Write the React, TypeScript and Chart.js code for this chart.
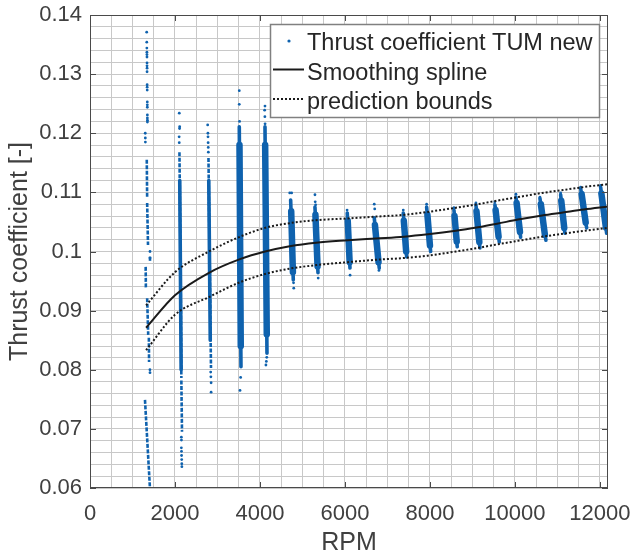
import React, { useEffect, useRef } from "react";
import { Chart, registerables } from "chart.js";

Chart.register(...registerables);

// ---------- axis ranges / ticks ----------
const xMin = 0;
const xMax = 12190;
const yMin = 0.06;
const yMax = 0.14;
const xTickValues = [0, 2000, 4000, 6000, 8000, 10000, 12000];
const yTickValues = [0.06, 0.07, 0.08, 0.09, 0.1, 0.11, 0.12, 0.13, 0.14];
const xMinorStep = 500;
const yMinorStep = 0.002;

const xTitle = "RPM";
const yTitle = "Thrust coefficient [-]";
const legendLabels = ["Thrust coefficient TUM new", "Smoothing spline", "prediction bounds"];

// ---------- smoothing spline and prediction bounds ----------
const splineRpm = [1320, 2000, 2800, 3530, 4120, 4700, 5320, 6070, 6730, 7390, 7950, 8610, 9130, 9580, 10070, 10640, 11130, 11620, 12190];
const splineVal = [0.0871, 0.0926, 0.0964, 0.0987, 0.1, 0.1009, 0.1015, 0.1019, 0.1022, 0.1025, 0.1029, 0.1035, 0.1041, 0.1047, 0.1054, 0.1061, 0.1066, 0.1071, 0.1076];
const upperVal = [0.0909, 0.0965, 0.1, 0.1025, 0.104, 0.1048, 0.1053, 0.1056, 0.1059, 0.1062, 0.1067, 0.1074, 0.108, 0.1086, 0.1092, 0.1099, 0.1104, 0.1109, 0.1114];
const lowerVal = [0.0833, 0.0893, 0.0923, 0.0948, 0.0962, 0.0971, 0.0977, 0.0982, 0.0986, 0.0989, 0.0993, 0.1, 0.1006, 0.1012, 0.1018, 0.1025, 0.103, 0.1035, 0.104];

// ---------- measured thrust coefficient samples ----------
// isolated samples [rpm, value]
const samplePoints: [number, number][] = [
  [1334, 0.1371], [1336, 0.1354], [1338, 0.1344], [1339, 0.1337], [1340, 0.1333], [1341, 0.1329],
  [1342, 0.1319], [1342, 0.1314], [1343, 0.131], [1343, 0.1304], [1345, 0.1282], [1345, 0.1278],
  [1346, 0.1273], [1348, 0.1253], [1349, 0.1248], [1349, 0.1244], [1350, 0.1231], [1350, 0.1226],
  [1351, 0.1222], [1351, 0.1219], [1300, 0.12], [1302, 0.1192], [1303, 0.1185], [1412, 0.1],
  [1412, 0.0989], [1410, 0.08], [1412, 0.0795],
  [2101, 0.1234], [2110, 0.1211], [2108, 0.1208], [2098, 0.1194], [2100, 0.1184], [2150, 0.0686],
  [2152, 0.0681], [2150, 0.0668], [2153, 0.0662], [2155, 0.0655], [2158, 0.0648], [2160, 0.0641], [2162, 0.0636],
  [2769, 0.1214], [2775, 0.12], [2777, 0.1194], [2780, 0.1184], [2783, 0.1176], [2785, 0.1168],
  [2840, 0.0796], [2845, 0.0788], [2850, 0.0778], [2850, 0.0762],
  [3513, 0.1272], [3513, 0.1249], [3520, 0.122], [3545, 0.0787], [3530, 0.0765],
  [4118, 0.1246], [4110, 0.1239], [4115, 0.1228], [4120, 0.1216], [4160, 0.0821], [4150, 0.0814], [4140, 0.0808],
  [4700, 0.1099], [4745, 0.1099], [4790, 0.0947], [4795, 0.0938],
  [5294, 0.1096], [5300, 0.1084], [5310, 0.1079], [5370, 0.0955],
  [6050, 0.107], [6054, 0.1065], [6120, 0.096],
  [6689, 0.108], [6700, 0.1072], [6800, 0.0968],
  [7372, 0.107], [7922, 0.108], [8565, 0.1074], [9082, 0.1082], [9529, 0.1084],
  [10024, 0.1097], [10588, 0.1092], [11075, 0.1099], [11546, 0.1109], [12016, 0.1112],
];

// continuous runs of samples [rpmStart, valueStart, rpmEnd, valueEnd]
const sparseRuns: [number, number, number, number][] = [
  [1336, 0.1155, 1345, 0.109], [1345, 0.1082, 1365, 0.1011], [1412, 0.0991, 1412, 0.0982],
  [1310, 0.0974, 1315, 0.0938], [1345, 0.0921, 1370, 0.0859], [1385, 0.0854, 1390, 0.0813],
  [1294, 0.0749, 1412, 0.0598],
  [2105, 0.1168, 2130, 0.0989], [2130, 0.0994, 2150, 0.0786], [2150, 0.0782, 2165, 0.0695],
  [2788, 0.1158, 2815, 0.0989], [2815, 0.0994, 2847, 0.0803],
];
const coreRuns: [number, number, number, number][] = [
  [2112, 0.112, 2145, 0.08], [2795, 0.112, 2830, 0.085],
  [3513, 0.1211, 3553, 0.0805], [4118, 0.1211, 4165, 0.0828],
  [4722, 0.1087, 4784, 0.0952], [5294, 0.1075, 5365, 0.0964], [6054, 0.1065, 6118, 0.0972],
  [6689, 0.1057, 6807, 0.0972], [7372, 0.1065, 7452, 0.0991], [7922, 0.1075, 8016, 0.1],
  [8565, 0.107, 8642, 0.1008], [9082, 0.1079, 9176, 0.1006], [9529, 0.1079, 9631, 0.1016],
  [10024, 0.1092, 10134, 0.1024], [10588, 0.109, 10729, 0.1019], [11075, 0.1096, 11176, 0.1031],
  [11546, 0.1107, 11687, 0.104], [12016, 0.1109, 12158, 0.1031],
];
const bulkRuns: [number, number, number, number][] = [
  [3518, 0.118, 3548, 0.084], [4122, 0.118, 4160, 0.086],
  [4735, 0.1068, 4775, 0.0965], [5305, 0.1062, 5355, 0.0975], [6065, 0.1052, 6110, 0.0982],
  [6705, 0.1045, 6790, 0.0982], [7385, 0.1052, 7440, 0.1], [7940, 0.1062, 8000, 0.101],
  [8578, 0.106, 8630, 0.1017], [9095, 0.1068, 9162, 0.1016], [9545, 0.107, 9615, 0.1025],
  [10040, 0.1082, 10118, 0.1033], [10610, 0.108, 10705, 0.1028], [11090, 0.1086, 11160, 0.104],
  [11570, 0.1097, 11665, 0.1049], [12035, 0.1098, 12140, 0.1041],
];

// ---------- styles ----------
const FONT = '"Liberation Sans", Arial, Helvetica, sans-serif';
const BLUE = "#0f62ae";
const AXIS = "#4a4a4a";
const TEXT = "#404040";

function minorTicks(min: number, max: number, step: number) {
  const out: { value: number }[] = [];
  const n = Math.floor((max - min) / step + 1e-6);
  for (let i = 0; i <= n; i++) out.push({ value: min + i * step });
  return out;
}

const boxPlugin = {
  id: "matlabBox",
  afterDatasetsDraw(chart: any) {
    const { ctx, chartArea } = chart;
    const { left, right, top, bottom } = chartArea;
    const xs = chart.scales.x;
    const ys = chart.scales.y;
    ctx.save();
    ctx.strokeStyle = AXIS;
    ctx.lineWidth = 1;
    ctx.setLineDash([]);
    ctx.strokeRect(Math.round(left) + 0.5, Math.round(top) + 0.5, Math.round(right - left) - 1, Math.round(bottom - top) - 1);
    const tl = 6;
    ctx.beginPath();
    xs.ticks.forEach((t: any) => {
      const px = Math.round(xs.getPixelForValue(t.value)) + 0.5;
      ctx.moveTo(px, bottom);
      ctx.lineTo(px, bottom - tl);
      ctx.moveTo(px, top);
      ctx.lineTo(px, top + tl);
    });
    ys.ticks.forEach((t: any) => {
      const py = Math.round(ys.getPixelForValue(t.value)) + 0.5;
      ctx.moveTo(left, py);
      ctx.lineTo(left + tl, py);
      ctx.moveTo(right, py);
      ctx.lineTo(right - tl, py);
    });
    ctx.stroke();

    // legend
    const lx0 = right - 338;
    const ly0 = top + 9;
    const lw = 329;
    const lh = 93;
    ctx.fillStyle = "#ffffff";
    ctx.fillRect(lx0, ly0, lw, lh);
    ctx.strokeStyle = "#808080";
    ctx.lineWidth = 1.5;
    ctx.strokeRect(lx0 + 0.5, ly0 + 0.5, lw, lh);
    const rowBase = [ly0 + 26, ly0 + 55.5, ly0 + 85];
    const rowMid = [ly0 + 17, ly0 + 45.5, ly0 + 75];
    ctx.fillStyle = BLUE;
    ctx.beginPath();
    ctx.arc(lx0 + 19, rowMid[0], 1.6, 0, Math.PI * 2);
    ctx.fill();
    ctx.strokeStyle = "#1a1a1a";
    ctx.lineWidth = 2;
    ctx.beginPath();
    ctx.moveTo(lx0 + 3, rowMid[1]);
    ctx.lineTo(lx0 + 34, rowMid[1]);
    ctx.stroke();
    ctx.setLineDash([2, 2]);
    ctx.beginPath();
    ctx.moveTo(lx0 + 3, rowMid[2]);
    ctx.lineTo(lx0 + 34, rowMid[2]);
    ctx.stroke();
    ctx.setLineDash([]);
    ctx.fillStyle = "#262626";
    ctx.font = `23.5px ${FONT}`;
    ctx.textAlign = "left";
    ctx.textBaseline = "alphabetic";
    legendLabels.forEach((lab, i) => ctx.fillText(lab, lx0 + 37, rowBase[i]));
    ctx.restore();
  },
};

function runDatasets(runs: [number, number, number, number][], width: number, dash: number[]) {
  return runs.map((r) => ({
    label: "run",
    data: [
      { x: r[0], y: r[1] },
      { x: r[2], y: r[3] },
    ],
    showLine: true,
    borderColor: BLUE,
    backgroundColor: BLUE,
    borderWidth: width,
    borderDash: dash,
    borderCapStyle: dash.length ? ("butt" as const) : ("round" as const),
    pointRadius: 0,
    pointHoverRadius: 0,
    order: 5,
  }));
}

export default function App() {
  const ref = useRef<HTMLCanvasElement>(null);
  useEffect(() => {
    if (!ref.current) return;
    const lineDs = (vals: number[], label: string, dashed: boolean) => ({
      label,
      data: splineRpm.map((x, i) => ({ x, y: vals[i] })),
      showLine: true,
      borderColor: "#1a1a1a",
      borderWidth: 2,
      borderDash: dashed ? [2, 2] : [],
      cubicInterpolationMode: "monotone" as const,
      pointRadius: 0,
      pointHoverRadius: 0,
      order: 0,
    });
    const chart = new Chart(ref.current, {
      type: "scatter",
      data: {
        datasets: [
          lineDs(splineVal, legendLabels[1], false),
          lineDs(upperVal, legendLabels[2], true),
          lineDs(lowerVal, legendLabels[2], true),
          {
            label: legendLabels[0],
            data: samplePoints.map(([x, y]) => ({ x, y })),
            backgroundColor: BLUE,
            borderWidth: 0,
            pointRadius: 1.4,
            pointHoverRadius: 1.4,
            order: 4,
          },
          ...runDatasets(sparseRuns, 2.6, [4, 1.5]),
          ...runDatasets(coreRuns, 3.6, []),
          ...runDatasets(bulkRuns, 6.5, []),
        ] as any,
      },
      options: {
        responsive: false,
        devicePixelRatio: 1,
        animation: false,
        layout: { padding: { top: 15, right: 25, left: 0, bottom: 0 } },
        plugins: { legend: { display: false }, tooltip: { enabled: false } },
        scales: {
          x: {
            type: "linear",
            position: "bottom",
            min: xMin,
            max: xMax,
            afterFit: (s: any) => {
              s.height = 69;
              s.paddingLeft = 0;
              s.paddingRight = 0;
            },
            afterBuildTicks: (s: any) => {
              s.ticks = xTickValues.map((value) => ({ value }));
            },
            ticks: {
              padding: 13,
              color: TEXT,
              font: { family: FONT, size: 22 },
              maxRotation: 0,
              autoSkip: false,
              callback: (v: any) => String(v),
            },
            grid: { color: "#e5e5e5", lineWidth: 1, drawTicks: false },
            border: { display: false },
            title: {
              display: true,
              text: xTitle,
              color: TEXT,
              font: { family: FONT, size: 25, lineHeight: 1.1 },
              padding: { top: 0, bottom: 0 },
            },
          },
          xMinor: {
            type: "linear",
            position: "bottom",
            min: xMin,
            max: xMax,
            afterFit: (s: any) => {
              s.height = 0;
              s.paddingLeft = 0;
              s.paddingRight = 0;
            },
            afterBuildTicks: (s: any) => {
              s.ticks = minorTicks(xMin, xMax, xMinorStep);
            },
            ticks: { display: false },
            grid: { color: "#c8c8c8", lineWidth: 1, drawTicks: false, borderDash: [1, 3] } as any,
            border: { display: false },
          },
          y: {
            type: "linear",
            position: "left",
            min: yMin,
            max: yMax,
            afterFit: (s: any) => {
              s.width = 90;
              s.paddingTop = 0;
              s.paddingBottom = 0;
            },
            afterBuildTicks: (s: any) => {
              s.ticks = yTickValues.map((value) => ({ value }));
            },
            ticks: {
              padding: 8,
              color: TEXT,
              font: { family: FONT, size: 22 },
              autoSkip: false,
              callback: (v: any) => String(Number(Number(v).toFixed(4))),
            },
            grid: { color: "#e5e5e5", lineWidth: 1, drawTicks: false },
            border: { display: false },
            title: {
              display: true,
              text: yTitle,
              color: TEXT,
              font: { family: FONT, size: 25 },
              padding: { top: 5, bottom: 0 },
            },
          },
          yMinor: {
            type: "linear",
            position: "left",
            min: yMin,
            max: yMax,
            afterFit: (s: any) => {
              s.width = 0;
              s.paddingTop = 0;
              s.paddingBottom = 0;
            },
            afterBuildTicks: (s: any) => {
              s.ticks = minorTicks(yMin, yMax, yMinorStep);
            },
            ticks: { display: false },
            grid: { color: "#c8c8c8", lineWidth: 1, drawTicks: false, borderDash: [1, 3] } as any,
            border: { display: false },
          },
        },
      } as any,
      plugins: [boxPlugin],
    });
    return () => chart.destroy();
  }, []);
  return (
    <div style={{ position: "absolute", left: 0, top: 0, width: 633, height: 557, background: "#fff" }}>
      <canvas ref={ref} width={633} height={557} style={{ display: "block" }} />
    </div>
  );
}
